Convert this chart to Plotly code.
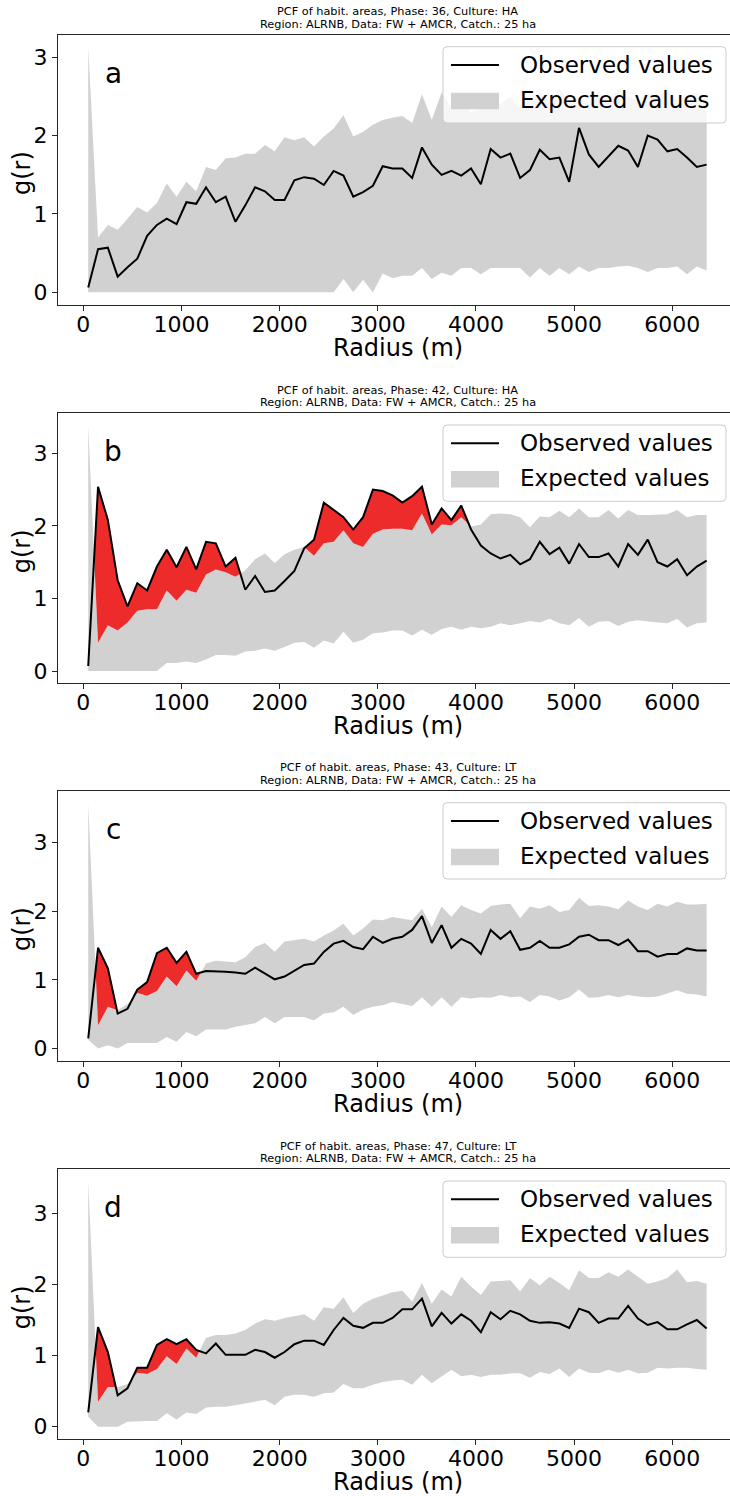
import plotly.graph_objects as go

# ---------------- data ----------------
radius = [50, 150, 250, 350, 450, 550, 650, 750, 850, 950,
          1050, 1150, 1250, 1350, 1450, 1550, 1650, 1750, 1850, 1950,
          2050, 2150, 2250, 2350, 2450, 2550, 2650, 2750, 2850, 2950,
          3050, 3150, 3250, 3350, 3450, 3550, 3650, 3750, 3850, 3950,
          4050, 4150, 4250, 4350, 4450, 4550, 4650, 4750, 4850, 4950,
          5050, 5150, 5250, 5350, 5450, 5550, 5650, 5750, 5850, 5950,
          6050, 6150, 6250, 6350]

panel_letters = ["a", "b", "c", "d"]
titles_line1 = ["PCF of habit. areas, Phase: 36, Culture: HA",
                "PCF of habit. areas, Phase: 42, Culture: HA",
                "PCF of habit. areas, Phase: 43, Culture: LT",
                "PCF of habit. areas, Phase: 47, Culture: LT"]
titles_line2 = ["Region: ALRNB, Data: FW + AMCR, Catch.: 25 ha"] * 4
x_ticks = [0, 1000, 2000, 3000, 4000, 5000, 6000]
y_ticks = [0, 1, 2, 3]
x_label = "Radius (m)"
y_label = "g(r)"
legend_obs = "Observed values"
legend_exp = "Expected values"

obs_a = [0.06, 0.55, 0.57, 0.20, 0.32, 0.43, 0.72, 0.86, 0.94, 0.87,
         1.15, 1.13, 1.34, 1.15, 1.22, 0.90, 1.11, 1.34, 1.29, 1.18,
         1.18, 1.43, 1.47, 1.45, 1.37, 1.55, 1.49, 1.22, 1.28, 1.36,
         1.61, 1.58, 1.58, 1.46, 1.85, 1.63, 1.50, 1.55, 1.49, 1.58,
         1.38, 1.83, 1.72, 1.77, 1.46, 1.56, 1.82, 1.70, 1.72, 1.41,
         2.10, 1.76, 1.60, 1.73, 1.87, 1.81, 1.60, 2.00, 1.95, 1.80,
         1.83, 1.72, 1.60, 1.63]
up_a = [3.13, 0.70, 0.86, 0.80, 0.94, 1.09, 1.02, 1.14, 1.39, 1.22,
        1.41, 1.29, 1.60, 1.56, 1.71, 1.72, 1.77, 1.77, 1.88, 1.80,
        1.98, 1.94, 1.98, 1.86, 1.99, 2.09, 2.26, 1.99, 2.05, 2.14,
        2.20, 2.23, 2.25, 2.16, 2.53, 2.20, 2.55, 2.35, 2.40, 2.30,
        2.35, 2.45, 2.40, 2.50, 2.35, 2.45, 2.55, 2.40, 2.60, 2.45,
        2.50, 2.40, 2.55, 2.45, 2.60, 2.50, 2.45, 2.55, 2.50, 2.60,
        2.45, 2.50, 2.55, 2.45]
low_a = [0.0, 0.0, 0.0, 0.0, 0.0, 0.0, 0.0, 0.0, 0.0, 0.0,
         0.0, 0.0, 0.0, 0.0, 0.0, 0.0, 0.0, 0.0, 0.0, 0.0,
         0.0, 0.0, 0.0, 0.0, 0.0, 0.0, 0.17, 0.0, 0.16, 0.0,
         0.24, 0.18, 0.21, 0.21, 0.31, 0.17, 0.25, 0.21, 0.31, 0.31,
         0.23, 0.31, 0.31, 0.31, 0.31, 0.19, 0.31, 0.21, 0.31, 0.23,
         0.33, 0.26, 0.31, 0.31, 0.33, 0.34, 0.31, 0.26, 0.31, 0.31,
         0.33, 0.23, 0.33, 0.28]

obs_b = [0.07, 2.54, 2.08, 1.25, 0.89, 1.21, 1.11, 1.44, 1.67, 1.43,
         1.71, 1.40, 1.78, 1.76, 1.44, 1.56, 1.12, 1.31, 1.09, 1.11,
         1.24, 1.38, 1.69, 1.81, 2.32, 2.22, 2.12, 1.95, 2.12, 2.50,
         2.48, 2.42, 2.32, 2.41, 2.54, 2.02, 2.24, 2.08, 2.28, 1.95,
         1.73, 1.62, 1.55, 1.60, 1.47, 1.54, 1.78, 1.61, 1.70, 1.48,
         1.75, 1.57, 1.57, 1.62, 1.44, 1.75, 1.60, 1.81, 1.50, 1.44,
         1.54, 1.32, 1.44, 1.52]
up_b = [3.38, 0.39, 0.63, 0.56, 0.67, 0.83, 0.85, 0.85, 1.11, 0.97,
        1.12, 1.08, 1.33, 1.40, 1.36, 1.30, 1.39, 1.54, 1.62, 1.49,
        1.61, 1.67, 1.71, 1.59, 1.76, 1.78, 1.94, 1.76, 1.71, 1.89,
        1.95, 1.96, 1.96, 1.94, 2.17, 1.88, 2.02, 2.01, 2.12, 1.99,
        2.02, 2.16, 2.17, 2.16, 2.12, 1.98, 2.13, 2.12, 2.21, 2.12,
        2.24, 2.12, 2.12, 2.22, 2.10, 2.22, 2.15, 2.15, 2.15, 2.16,
        2.22, 2.12, 2.15, 2.15]
low_b = [0.0, 0.0, 0.0, 0.0, 0.0, 0.0, 0.0, 0.0, 0.11, 0.11,
         0.13, 0.11, 0.16, 0.22, 0.22, 0.21, 0.27, 0.28, 0.31, 0.28,
         0.33, 0.39, 0.40, 0.32, 0.42, 0.38, 0.54, 0.39, 0.43, 0.52,
         0.53, 0.56, 0.56, 0.49, 0.57, 0.50, 0.58, 0.61, 0.57, 0.61,
         0.59, 0.61, 0.66, 0.63, 0.66, 0.69, 0.67, 0.72, 0.66, 0.63,
         0.73, 0.61, 0.68, 0.69, 0.62, 0.68, 0.70, 0.68, 0.67, 0.66,
         0.72, 0.60, 0.66, 0.67]

obs_c = [0.15, 1.47, 1.17, 0.51, 0.58, 0.86, 0.97, 1.39, 1.47, 1.25,
         1.41, 1.09, 1.13, 1.13, 1.12, 1.11, 1.09, 1.18, 1.09, 1.01,
         1.05, 1.14, 1.22, 1.24, 1.41, 1.53, 1.57, 1.48, 1.45, 1.63,
         1.54, 1.60, 1.63, 1.73, 1.93, 1.54, 1.80, 1.47, 1.60, 1.53,
         1.38, 1.73, 1.60, 1.71, 1.44, 1.47, 1.57, 1.47, 1.47, 1.52,
         1.63, 1.66, 1.58, 1.58, 1.51, 1.59, 1.42, 1.42, 1.34, 1.38,
         1.38, 1.46, 1.43, 1.43]
up_c = [3.57, 0.34, 0.61, 0.56, 0.65, 0.81, 0.77, 0.84, 1.05, 0.91,
        1.14, 0.99, 1.24, 1.28, 1.27, 1.26, 1.33, 1.48, 1.54, 1.41,
        1.56, 1.58, 1.60, 1.56, 1.65, 1.72, 1.82, 1.65, 1.75, 1.88,
        1.87, 1.92, 1.90, 1.87, 2.04, 1.77, 2.07, 1.92, 2.09, 2.02,
        1.97, 2.08, 2.10, 2.11, 1.90, 2.07, 2.04, 2.09, 1.99, 2.02,
        2.20, 2.08, 2.09, 2.07, 2.03, 2.16, 2.07, 2.02, 2.11, 2.07,
        2.14, 2.10, 2.10, 2.11]
low_c = [0.13, 0.0, 0.05, 0.0, 0.08, 0.08, 0.08, 0.08, 0.17, 0.10,
         0.24, 0.18, 0.28, 0.28, 0.28, 0.32, 0.34, 0.37, 0.46, 0.37,
         0.46, 0.46, 0.46, 0.41, 0.51, 0.53, 0.61, 0.49, 0.57, 0.61,
         0.63, 0.68, 0.65, 0.62, 0.75, 0.61, 0.75, 0.61, 0.75, 0.73,
         0.75, 0.74, 0.78, 0.75, 0.76, 0.68, 0.78, 0.76, 0.70, 0.75,
         0.86, 0.74, 0.75, 0.78, 0.75, 0.78, 0.76, 0.75, 0.76, 0.80,
         0.85, 0.80, 0.79, 0.76]

obs_d = [0.20, 1.40, 1.05, 0.44, 0.54, 0.83, 0.83, 1.15, 1.23, 1.16,
         1.23, 1.08, 1.03, 1.17, 1.01, 1.01, 1.01, 1.08, 1.05, 0.97,
         1.05, 1.16, 1.21, 1.21, 1.15, 1.36, 1.53, 1.42, 1.39, 1.46,
         1.46, 1.53, 1.65, 1.65, 1.80, 1.41, 1.60, 1.45, 1.58, 1.49,
         1.33, 1.61, 1.51, 1.63, 1.58, 1.49, 1.46, 1.47, 1.45, 1.39,
         1.66, 1.61, 1.46, 1.52, 1.52, 1.70, 1.52, 1.43, 1.47, 1.37,
         1.37, 1.44, 1.50, 1.38]
up_d = [3.45, 0.35, 0.56, 0.56, 0.60, 0.76, 0.74, 0.81, 0.99, 0.88,
        1.10, 0.97, 1.25, 1.29, 1.29, 1.31, 1.36, 1.45, 1.51, 1.49,
        1.53, 1.55, 1.58, 1.49, 1.68, 1.66, 1.82, 1.60, 1.73, 1.80,
        1.84, 1.89, 1.91, 1.76, 2.02, 1.73, 1.93, 1.83, 2.11, 1.97,
        1.85, 2.04, 2.05, 2.06, 1.90, 2.09, 1.99, 2.11, 2.02, 1.92,
        2.20, 2.09, 2.09, 2.17, 2.11, 2.21, 2.11, 2.01, 2.04, 2.09,
        2.21, 2.03, 2.05, 2.01]
low_d = [0.14, 0.0, 0.0, 0.0, 0.07, 0.08, 0.08, 0.08, 0.19, 0.10,
         0.20, 0.18, 0.27, 0.28, 0.28, 0.30, 0.33, 0.35, 0.38, 0.30,
         0.42, 0.45, 0.45, 0.42, 0.47, 0.48, 0.60, 0.54, 0.54, 0.59,
         0.63, 0.65, 0.66, 0.59, 0.73, 0.61, 0.70, 0.80, 0.71, 0.73,
         0.70, 0.73, 0.73, 0.75, 0.75, 0.69, 0.77, 0.74, 0.82, 0.70,
         0.82, 0.76, 0.75, 0.80, 0.76, 0.80, 0.75, 0.76, 0.83, 0.82,
         0.83, 0.83, 0.81, 0.80]

observed = [obs_a, obs_b, obs_c, obs_d]
upper = [up_a, up_b, up_c, up_d]
lower = [low_a, low_b, low_c, low_d]

# ---------------- layout geometry ----------------
W, H = 730, 1496
ML = 58
PW = W - ML
panel_tops = [35, 413.3, 791, 1169.3]
panel_h = 270
y_ranges = [[-0.162, 3.285], [-0.169, 3.551], [-0.181, 3.755], [-0.177, 3.619]]
x_range = [-258, 6588]

FONT = "DejaVu Sans"
GREY = "#D1D1D1"
RED = "#EE2B2B"
AX = "#262626"


def px_x(p):
    return (p - ML) / PW


def px_y(p):
    return 1 - p / H


def rounded_rect(x0, y0, x1, y1, r):
    X = px_x
    Y = px_y
    return (f"M {X(x0 + r)},{Y(y0)} L {X(x1 - r)},{Y(y0)} Q {X(x1)},{Y(y0)} {X(x1)},{Y(y0 + r)} "
            f"L {X(x1)},{Y(y1 - r)} Q {X(x1)},{Y(y1)} {X(x1 - r)},{Y(y1)} "
            f"L {X(x0 + r)},{Y(y1)} Q {X(x0)},{Y(y1)} {X(x0)},{Y(y1 - r)} "
            f"L {X(x0)},{Y(y0 + r)} Q {X(x0)},{Y(y0)} {X(x0 + r)},{Y(y0)} Z")


def exceed_polygons(x, obs, up):
    xs, ys = [], []
    cur = None
    for i in range(len(x)):
        above = obs[i] > up[i]
        if above:
            if cur is None:
                cur = ([], [], [])
                if i > 0:
                    d0 = obs[i - 1] - up[i - 1]
                    d1 = obs[i] - up[i]
                    t = d0 / (d0 - d1)
                    xc = x[i - 1] + t * (x[i] - x[i - 1])
                    yc = obs[i - 1] + t * (obs[i] - obs[i - 1])
                    cur[0].append(xc); cur[1].append(yc); cur[2].append(yc)
            cur[0].append(x[i]); cur[1].append(obs[i]); cur[2].append(up[i])
        elif cur is not None:
            d0 = obs[i - 1] - up[i - 1]
            d1 = obs[i] - up[i]
            t = d0 / (d0 - d1)
            xc = x[i - 1] + t * (x[i] - x[i - 1])
            yc = obs[i - 1] + t * (obs[i] - obs[i - 1])
            cur[0].append(xc); cur[1].append(yc); cur[2].append(yc)
            xs += cur[0] + cur[0][::-1] + [None]
            ys += cur[1] + cur[2][::-1] + [None]
            cur = None
    if cur is not None:
        xs += cur[0] + cur[0][::-1] + [None]
        ys += cur[1] + cur[2][::-1] + [None]
    return xs, ys


fig = go.Figure()
annotations = []
shapes = []
layout = {}

for k in range(4):
    s = "" if k == 0 else str(k + 1)
    xa, ya = "x" + s, "y" + s
    top = panel_tops[k]
    bot = top + panel_h

    fig.add_trace(go.Scatter(x=radius, y=lower[k], xaxis=xa, yaxis=ya, mode="lines",
                             line=dict(width=0, color=GREY), showlegend=False,
                             hoverinfo="skip"))
    fig.add_trace(go.Scatter(x=radius, y=upper[k], xaxis=xa, yaxis=ya, mode="lines",
                             line=dict(width=0, color=GREY), fill="tonexty",
                             fillcolor=GREY, name=legend_exp, showlegend=False))
    rx, ry = exceed_polygons(radius, observed[k], upper[k])
    if rx:
        fig.add_trace(go.Scatter(x=rx, y=ry, xaxis=xa, yaxis=ya, mode="lines",
                                 line=dict(width=0, color=RED), fill="toself",
                                 fillcolor=RED, showlegend=False))
    fig.add_trace(go.Scatter(x=radius, y=observed[k], xaxis=xa, yaxis=ya, mode="lines",
                             line=dict(width=2, color="black"), name=legend_obs,
                             showlegend=False))

    layout["xaxis" + s] = dict(
        domain=[0, 1], anchor=ya, range=x_range, tickvals=x_ticks,
        ticks="outside", ticklen=5, tickwidth=1.2, tickcolor=AX,
        ticklabelstandoff=-6,
        showline=True, linecolor=AX, linewidth=1.3, mirror=True,
        showgrid=False, zeroline=False, automargin=False,
        tickfont=dict(family=FONT, size=22, color="black"))
    layout["yaxis" + s] = dict(
        domain=[px_y(bot), px_y(top)], anchor=xa, range=y_ranges[k], tickvals=y_ticks,
        ticks="outside", ticklen=5, tickwidth=1.2, tickcolor=AX,
        showline=True, linecolor=AX, linewidth=1.3, mirror=False,
        showgrid=False, zeroline=False, automargin=False,
        tickfont=dict(family=FONT, size=22, color="black"))

    # legend (drawn as box + samples + real text)
    shapes += [
        dict(type="path", xref="paper", yref="paper", layer="above",
             path=rounded_rect(443, top + 11.7, 726, top + 88, 4),
             fillcolor="rgba(255,255,255,0.8)", line=dict(color="#CCCCCC", width=1)),
        dict(type="line", xref="paper", yref="paper", layer="above",
             x0=px_x(451), x1=px_x(499), y0=px_y(top + 30), y1=px_y(top + 30),
             line=dict(color="black", width=2)),
        dict(type="rect", xref="paper", yref="paper", layer="above",
             x0=px_x(451), x1=px_x(499), y0=px_y(top + 74.3), y1=px_y(top + 57.7),
             fillcolor=GREY, line=dict(width=0)),
    ]

    annotations += [
        dict(text=legend_obs, xref="paper", yref="paper", x=px_x(518),
             y=px_y(top + 30), xanchor="left", yanchor="middle", showarrow=False,
             font=dict(family=FONT, size=23, color="black")),
        dict(text=legend_exp, xref="paper", yref="paper", x=px_x(518),
             y=px_y(top + 65), xanchor="left", yanchor="middle", showarrow=False,
             font=dict(family=FONT, size=23, color="black")),
        dict(text=titles_line1[k], xref="paper", yref="paper", x=px_x(397.8),
             y=px_y(top - 23.2), xanchor="center", yanchor="middle", showarrow=False,
             borderpad=0, font=dict(family=FONT, size=11.3, color="black")),
        dict(text=titles_line2[k], xref="paper", yref="paper", x=px_x(397.8),
             y=px_y(top - 10.7), xanchor="center", yanchor="middle", showarrow=False,
             borderpad=0, font=dict(family=FONT, size=11.3, color="black")),
        dict(text=panel_letters[k], xref="paper", yref="paper", x=px_x(113),
             y=px_y(top + 38), xanchor="center", yanchor="middle", showarrow=False,
             font=dict(family=FONT, size=28, color="black")),
        dict(text=x_label, xref="paper", yref="paper", x=px_x(397.8),
             y=px_y(bot + 43), xanchor="center", yanchor="middle", showarrow=False,
             font=dict(family=FONT, size=24, color="black")),
        dict(text=y_label, xref="paper", yref="paper", x=px_x(22),
             y=px_y(top + 138), xanchor="center", yanchor="middle", showarrow=False,
             textangle=-90, font=dict(family=FONT, size=24, color="black")),
    ]

fig.update_layout(
    width=W, height=H,
    margin=dict(l=ML, r=0, t=0, b=0, autoexpand=False),
    paper_bgcolor="white", plot_bgcolor="white",
    showlegend=False,
    annotations=annotations, shapes=shapes,
    **layout)

fig.write_html("out.html",
               config={"displayModeBar": False},
               post_script="document.body.style.margin='0px';document.body.style.overflow='hidden';")
